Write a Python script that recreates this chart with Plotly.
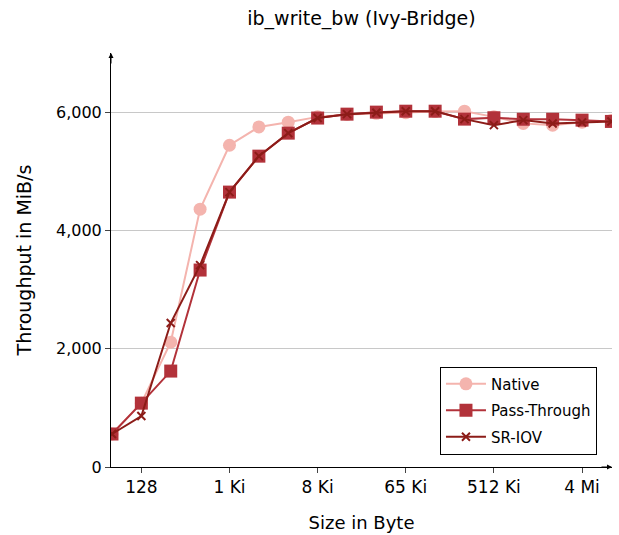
import numpy as np
import plotly.graph_objects as go

# Message sizes in bytes (64 B .. 8 MiB)
sizes = [2 ** k for k in range(6, 24)]

native = [560, 1080, 2110, 4360, 5440, 5750, 5830, 5920, 5960, 5980, 5990, 6010, 6016,
          5920, 5810, 5780, 5830, 5860]
pass_through = [558, 1080, 1622, 3330, 4648, 5256, 5645, 5900, 5966, 6000, 6016, 6016,
                5882, 5905, 5880, 5880, 5865, 5843]
sr_iov = [558, 862, 2434, 3414, 4648, 5256, 5645, 5900, 5966, 5990, 6016, 6016,
          5882, 5780, 5865, 5808, 5825, 5843]

tick_vals = [128, 1024, 8192, 65536, 524288, 4194304]
tick_text = ["128", "1 Ki", "8 Ki", "65 Ki", "512 Ki", "4 Mi"]
y_ticks = [0, 2000, 4000, 6000]

FONT = "DejaVu Sans"

fig = go.Figure()
fig.add_trace(go.Scatter(
    x=sizes, y=native, name="Native", mode="lines+markers", legendgroup="a",
    line=dict(color="#f4b4ae", width=2),
    marker=dict(symbol="circle", size=13, color="#f4b4ae"),
))
fig.add_trace(go.Scatter(
    x=sizes, y=pass_through, name="Pass-Through", mode="lines+markers", legendgroup="b",
    line=dict(color="#b2323a", width=2),
    marker=dict(symbol="square", size=13, color="#b2323a"),
))
fig.add_trace(go.Scatter(
    x=sizes, y=sr_iov, name="SR-IOV", mode="lines+markers", legendgroup="c",
    line=dict(color="#8c1c18", width=2),
    marker=dict(symbol="x-thin", size=8, color="#8c1c18",
                line=dict(color="#8c1c18", width=2)),
))

fig.update_layout(
    width=619, height=535,
    margin=dict(l=111, r=7, t=53, b=68),
    paper_bgcolor="white", plot_bgcolor="white",
    font=dict(family=FONT, size=16, color="black"),
    title=dict(text="ib_write_bw (Ivy-Bridge)", x=(111 + 612) / 2 / 619, xanchor="center",
               y=1 - 18 / 535, yanchor="middle", font=dict(size=19)),
    showlegend=True,
    legend=dict(x=0.97, y=0.03, xanchor="right", yanchor="bottom",
                bordercolor="black", borderwidth=1, bgcolor="white",
                font=dict(size=15), tracegroupgap=4, itemwidth=40),
    xaxis=dict(
        type="log", range=[np.log10(64) - 0.01, np.log10(2 ** 23) + 0.006],
        tickvals=tick_vals, ticktext=tick_text,
        showgrid=False, zeroline=False,
        showline=True, linecolor="black", linewidth=1,
        ticks="outside", ticklen=5, tickcolor="#444",
        tickfont=dict(size=17),
        title=dict(text="Size in Byte", font=dict(size=18), standoff=19),
    ),
    yaxis=dict(
        range=[0, 7000], tickvals=y_ticks, tickformat=",d",
        showgrid=True, gridcolor="#c8c8c8", gridwidth=1, zeroline=False,
        showline=True, linecolor="black", linewidth=1,
        ticks="outside", ticklen=5, tickcolor="#444",
        tickfont=dict(size=16),
        title=dict(text="Throughput in MiB/s", font=dict(size=19), standoff=19),
    ),
)

# Arrow heads at the ends of both axes
fig.add_annotation(x=1.0, y=0, xref="paper", yref="paper", ax=-12, ay=0,
                   showarrow=True, arrowhead=2, arrowsize=1, arrowwidth=1,
                   arrowcolor="black", text="")
fig.add_annotation(x=0, y=1.0, xref="paper", yref="paper", ax=0, ay=12,
                   showarrow=True, arrowhead=2, arrowsize=1, arrowwidth=1,
                   arrowcolor="black", text="")

fig.write_html("out.html")
